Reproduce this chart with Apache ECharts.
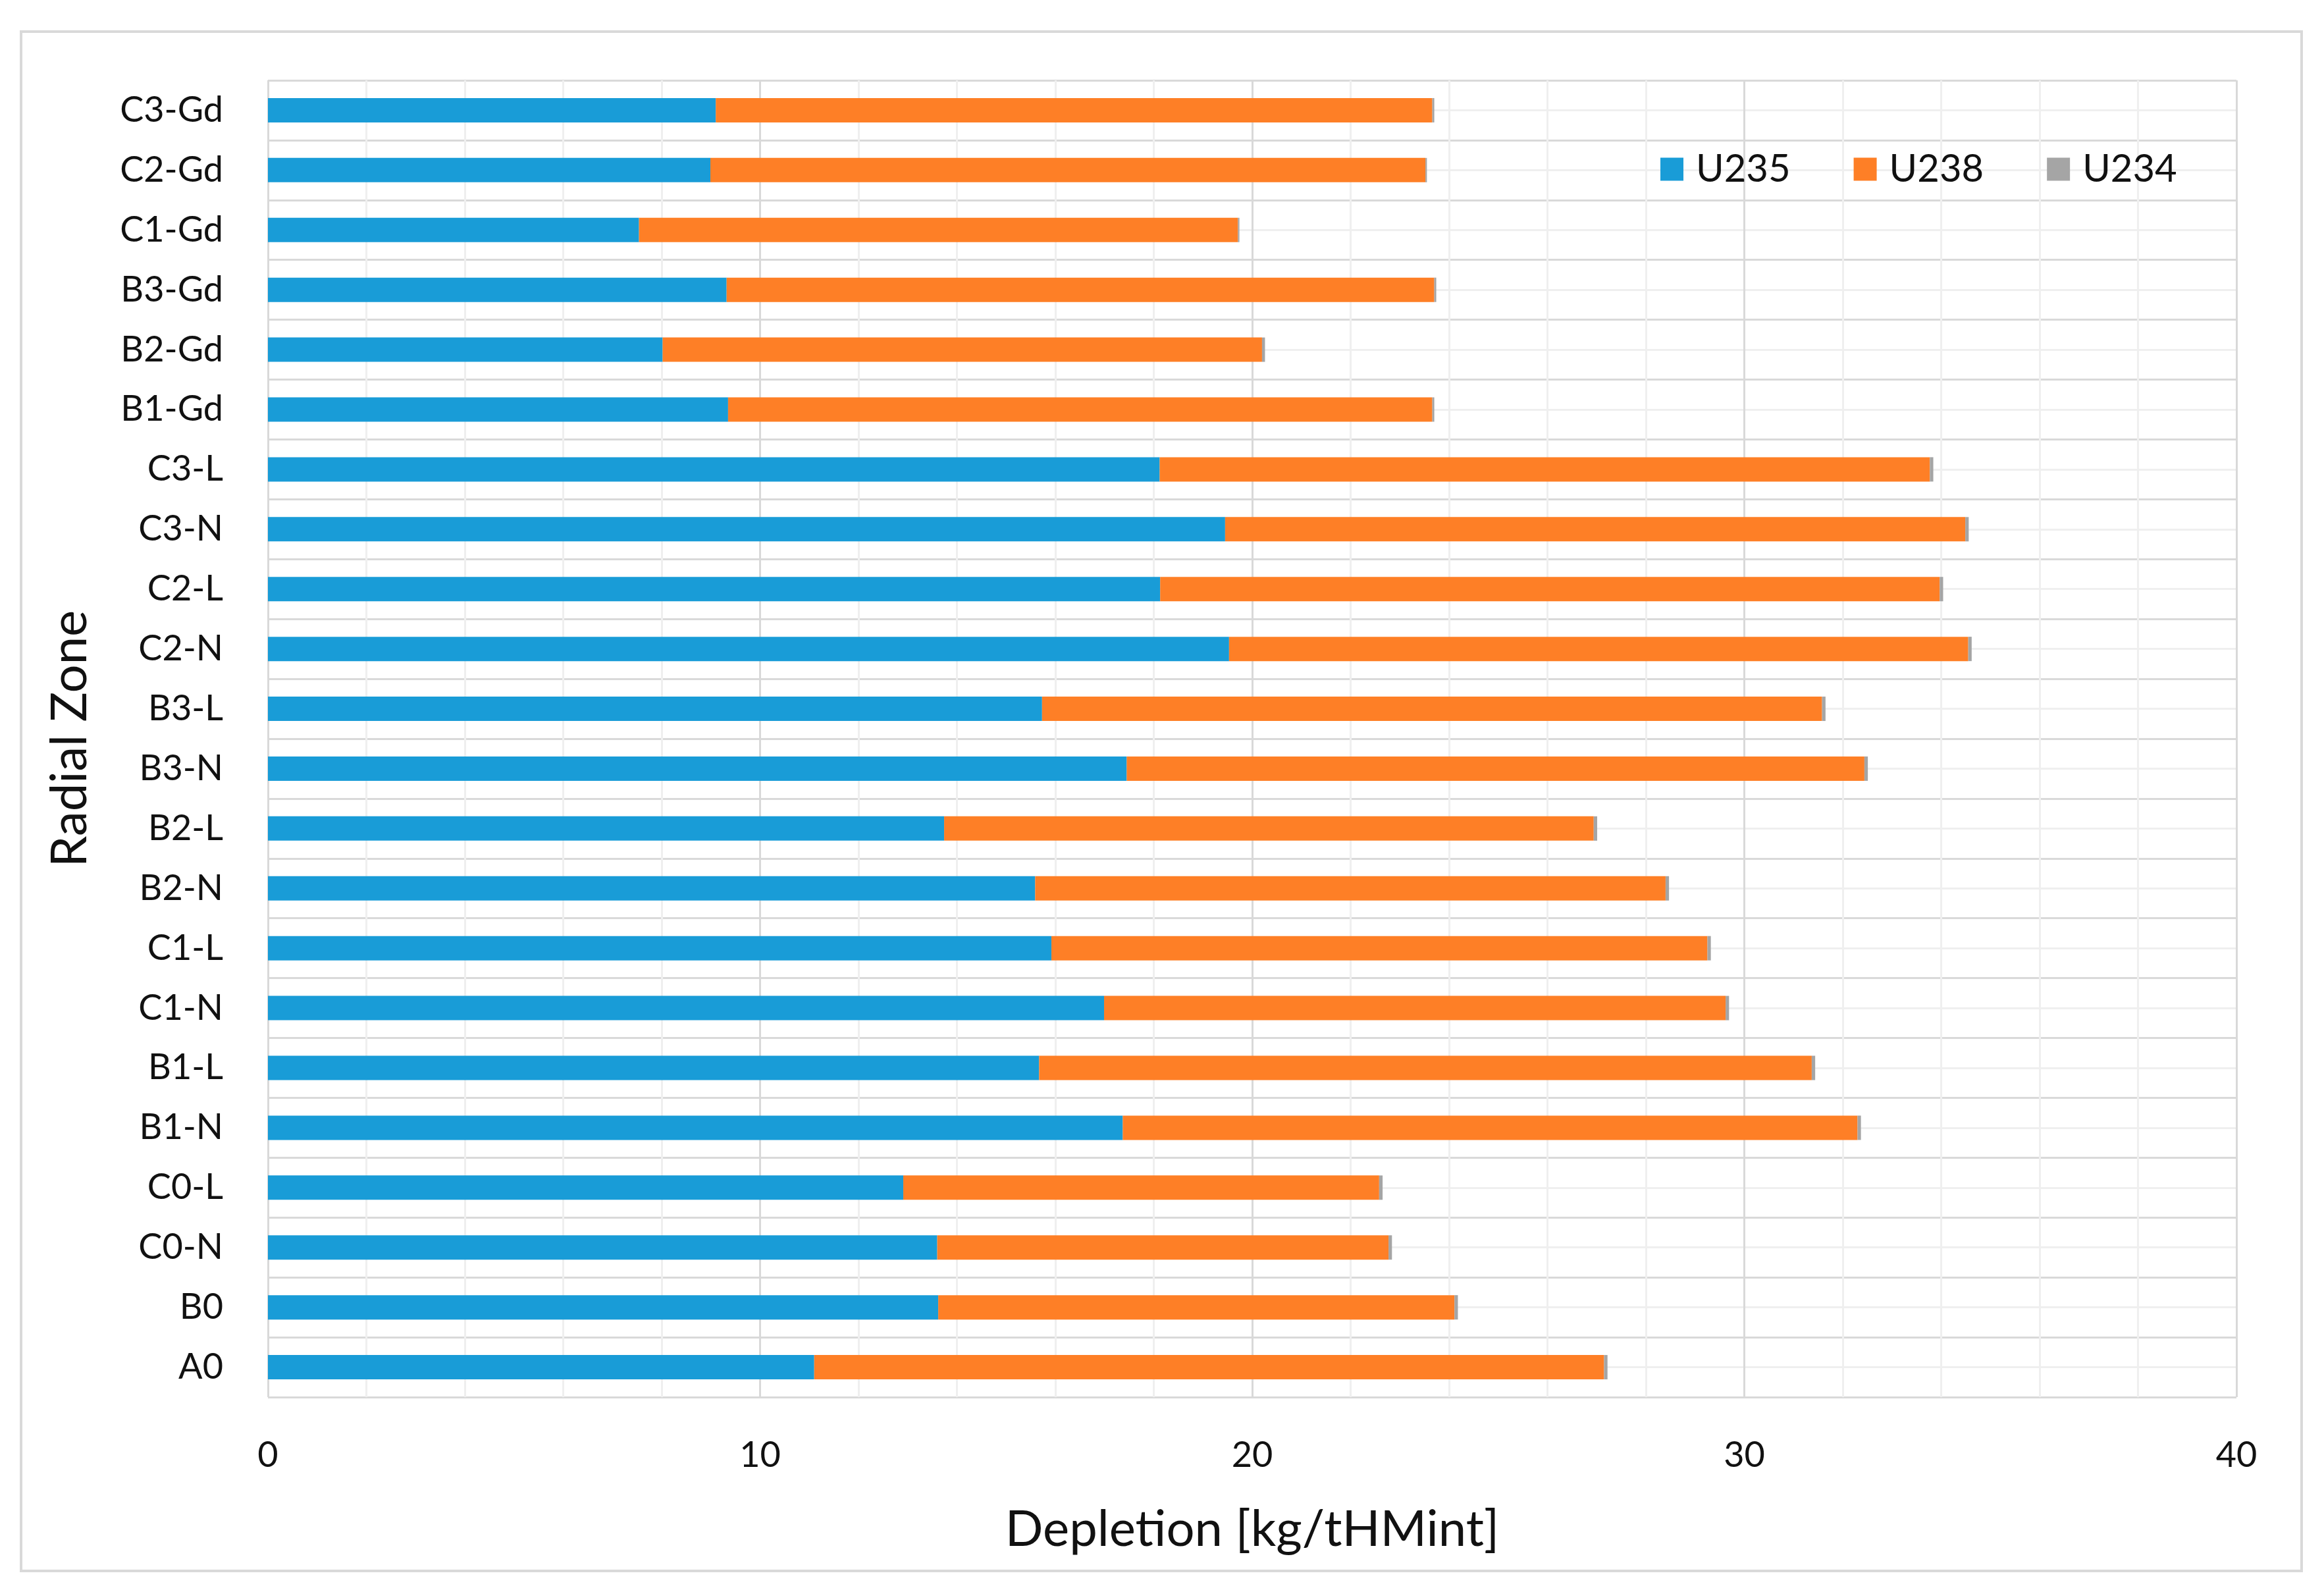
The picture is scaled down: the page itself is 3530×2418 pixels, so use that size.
<!DOCTYPE html>
<html>
<head>
<meta charset="utf-8">
<script src="https://cdn.jsdelivr.net/npm/echarts@6/dist/echarts.min.js"></script>
<style>
html,body{margin:0;padding:0;background:#fff;}
#chart{width:3530px;height:2418px;}
</style>
</head>
<body>
<div id="chart"></div>
<script>
// Categories bottom -> top
const categories = ['A0','B0','C0-N','C0-L','B1-N','B1-L','C1-N','C1-L','B2-N','B2-L','B3-N','B3-L','C2-N','C2-L','C3-N','C3-L','B1-Gd','B2-Gd','B3-Gd','C1-Gd','C2-Gd','C3-Gd'];
const u235 = [11.10,13.62,13.60,12.91,17.37,15.67,16.99,15.92,15.59,13.74,17.45,15.73,19.53,18.13,19.45,18.12,9.35,8.02,9.32,7.54,8.99,9.10];
const u238 = [16.05,10.49,9.17,9.67,14.93,15.70,12.63,13.33,12.81,13.20,14.99,15.85,15.02,15.84,15.04,15.65,14.31,12.18,14.38,12.17,14.53,14.56];
const u234 = [0.07,0.07,0.07,0.07,0.07,0.07,0.07,0.07,0.07,0.07,0.07,0.07,0.07,0.07,0.07,0.07,0.04,0.06,0.04,0.03,0.03,0.04];
const xTicks = [0,10,20,30,40];

const FONT = 'Lato';
const chart = echarts.init(document.getElementById('chart'));
const barW = 37;
chart.setOption({
  backgroundColor: '#ffffff',
  animation: false,
  textStyle: {fontFamily: FONT},
  graphic: [{
    type: 'rect', z: -1,
    shape: {x: 32, y: 48, width: 3464, height: 2338},
    style: {fill: 'none', stroke: '#d9d9d9', lineWidth: 4}
  }],
  grid: {left: 407, right: 133, top: 122, bottom: 296, containLabel: false},
  legend: {
    data: ['U235','U238','U234'],
    left: 2522, top: 228, padding: 0,
    icon: 'rect', itemWidth: 35, itemHeight: 35, itemGap: 96,
    textStyle: {fontFamily: FONT, fontSize: 58, color: '#111', padding: [0,0,0,14]}
  },
  xAxis: {
    type: 'value', min: xTicks[0], max: xTicks[xTicks.length-1], interval: 10,
    name: 'Depletion [kg/tHMint]', nameLocation: 'middle', nameGap: 163,
    nameTextStyle: {fontFamily: FONT, fontSize: 76, color: '#111'},
    axisLine: {show: false}, axisTick: {show: false},
    axisLabel: {fontFamily: FONT, fontSize: 54, color: '#111', margin: 62},
    splitLine: {show: true, lineStyle: {color: '#d9d9d9', width: 3}},
    minorTick: {show: false, splitNumber: 5},
    minorSplitLine: {show: true, lineStyle: {color: '#efefef', width: 3}}
  },
  yAxis: [{
    type: 'category', data: categories,
    name: 'Radial Zone', nameLocation: 'middle', nameGap: 263, nameRotate: 90,
    nameTextStyle: {fontFamily: FONT, fontSize: 76, color: '#111'},
    axisLine: {show: false}, axisTick: {show: false},
    axisLabel: {fontFamily: FONT, fontSize: 54, color: '#111', margin: 68},
    splitLine: {show: false}
  },{
    type: 'value', min: 0, max: categories.length, interval: 1, position: 'right',
    axisLine: {show: false}, axisTick: {show: false}, axisLabel: {show: false},
    splitLine: {show: true, lineStyle: {color: '#d9d9d9', width: 3}},
    minorTick: {show: false, splitNumber: 2},
    minorSplitLine: {show: true, lineStyle: {color: '#efefef', width: 3}}
  }],
  series: [
    {name: 'U235', type: 'bar', stack: 'dep', yAxisIndex: 0, barWidth: barW, data: u235, itemStyle: {color: '#199cd7'}},
    {name: 'U238', type: 'bar', stack: 'dep', yAxisIndex: 0, barWidth: barW, data: u238, itemStyle: {color: '#fe7f26'}},
    {name: 'U234', type: 'bar', stack: 'dep', yAxisIndex: 0, barWidth: barW, data: u234, itemStyle: {color: '#a5a5a5'}}
  ]
});
</script>
</body>
</html>
